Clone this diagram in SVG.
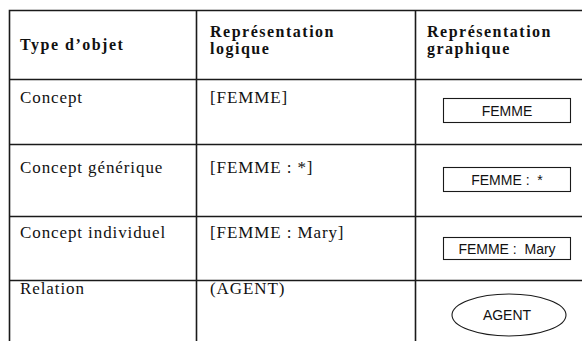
<svg xmlns="http://www.w3.org/2000/svg" width="582" height="341" viewBox="0 0 582 341">
<style>
.grid{stroke:#1a1a1a;stroke-width:1.6;fill:none}
.h{font-family:"Liberation Serif",serif;font-weight:bold;font-size:16px;fill:#111;letter-spacing:1.5px}
.t{font-family:"Liberation Serif",serif;font-size:17px;fill:#111;letter-spacing:0.9px}
.box{fill:#fff;stroke:#1a1a1a;stroke-width:1.1}
.s{font-family:"Liberation Sans",Arial,sans-serif;font-size:14px;fill:#111;text-anchor:middle}
</style>
<rect width="582" height="341" fill="#fff"/>
<g id="table-grid" class="grid">
<path d="M9.5 341 V10.5 H582"/>
<path d="M196.5 10.5 V341"/>
<path d="M415.5 10.5 V341"/>
<path d="M9.5 79.5 H582"/>
<path d="M9.5 144.5 H582"/>
<path d="M9.5 216.5 H582"/>
<path d="M9.5 280.5 H582"/>
</g>
<g id="header">
<text class="h" x="20" y="50">Type d’objet</text>
<text class="h" x="210" y="37">Représentation</text>
<text class="h" x="210" y="54">logique</text>
<text class="h" x="427" y="37">Représentation</text>
<text class="h" x="427" y="54">graphique</text>
</g>
<g id="row-concept">
<text class="t" x="20" y="103">Concept</text>
<text class="t" x="210" y="103">[FEMME]</text>
<rect class="box" x="443.5" y="98.5" width="127" height="24"/>
<text class="s" x="507" y="116">FEMME</text>
</g>
<g id="row-generique">
<text class="t" x="20" y="173">Concept générique</text>
<text class="t" x="210" y="173">[FEMME : *]</text>
<rect class="box" x="443.5" y="167.5" width="127" height="24"/>
<text class="s" x="507" y="185" xml:space="preserve">FEMME :  *</text>
</g>
<g id="row-individuel">
<text class="t" x="20" y="238">Concept individuel</text>
<text class="t" x="210" y="238">[FEMME : Mary]</text>
<rect class="box" x="443.5" y="237.5" width="127" height="22"/>
<text class="s" x="507" y="254" xml:space="preserve">FEMME :  Mary</text>
</g>
<g id="row-relation">
<text class="t" x="20" y="294">Relation</text>
<text class="t" x="210" y="294">(AGENT)</text>
<ellipse class="box" cx="509" cy="315" rx="57" ry="21"/>
<text class="s" x="507" y="320">AGENT</text>
</g>
</svg>
